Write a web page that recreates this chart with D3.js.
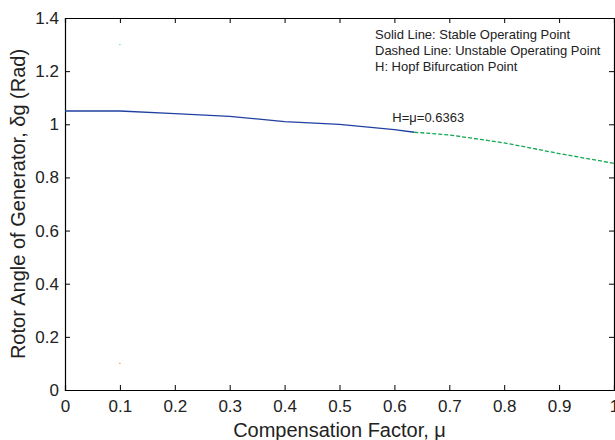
<!DOCTYPE html>
<html>
<head>
<meta charset="utf-8">
<script src="https://d3js.org/d3.v7.min.js"></script>
<style>
    body { margin: 0; padding: 0; background: #fff; }
    text { font-family: Arial, "Liberation Sans", sans-serif; fill: #222; }
</style>
</head>
<body>
<div id="chart"></div>
<script>
    // stable branch (solid) and unstable branch (dashed)
    let stableMu = [0, 0.1, 0.2, 0.3, 0.4, 0.5, 0.6, 0.6363];
    let stableDelta = [1.05, 1.05, 1.04, 1.03, 1.01, 1.0, 0.98, 0.97];
    let unstableMu = [0.6363, 0.7, 0.8, 0.9, 1.0];
    let unstableDelta = [0.97, 0.96, 0.93, 0.89, 0.853];
    // two stray single points in the original figure
    let strayMu = [0.1, 0.1];
    let strayDelta = [1.3, 0.1];
    let strayColor = ["#00c8c8", "#ff4000"];

    let xTicks = [0, 0.1, 0.2, 0.3, 0.4, 0.5, 0.6, 0.7, 0.8, 0.9, 1];
    let yTicks = [0, 0.2, 0.4, 0.6, 0.8, 1, 1.2, 1.4];
    let notes = ["Solid Line: Stable Operating Point",
                 "Dashed Line: Unstable Operating Point",
                 "H: Hopf Bifurcation Point"];

    let width = 615, height = 440;
    let margin = {left: 65, right: 1, top: 18, bottom: 50};
    let w = width - margin.left - margin.right;
    let h = height - margin.top - margin.bottom;

    let svg = d3.select("#chart").append("svg")
        .attr("width", width).attr("height", height);
    let g = svg.append("g").attr("transform", "translate(" + margin.left + "," + margin.top + ")");

    let x = d3.scaleLinear().domain([0, 1]).range([0, w]);
    let y = d3.scaleLinear().domain([0, 1.4]).range([h, 0]);

    function fmt(d) { return d3.format("")(+d.toFixed(1)); }

    // axes with inward ticks on all four sides
    let axBottom = g.append("g").attr("transform", "translate(0," + h + ")")
        .call(d3.axisBottom(x).tickValues(xTicks).tickSize(-5).tickPadding(10).tickFormat(fmt));
    let axTop = g.append("g")
        .call(d3.axisTop(x).tickValues(xTicks).tickSize(-5).tickFormat(""));
    let axLeft = g.append("g")
        .call(d3.axisLeft(y).tickValues(yTicks).tickSize(-5).tickPadding(6).tickFormat(fmt));
    let axRight = g.append("g").attr("transform", "translate(" + w + ",0)")
        .call(d3.axisRight(y).tickValues(yTicks).tickSize(-5).tickFormat(""));

    [axBottom, axTop, axLeft, axRight].forEach(function(a) {
        a.select(".domain").attr("stroke", "#000").attr("stroke-width", 1.2);
        a.selectAll(".tick line").attr("stroke", "#000");
        a.selectAll("text").style("font-size", "17px").attr("fill", "#222");
    });
    // drop ticks that sit on the box corners
    axTop.selectAll(".tick").filter(function(d) { return d === 0 || d === 1; }).remove();
    axRight.selectAll(".tick").filter(function(d) { return d === 0 || d === 1.4; }).remove();
    axBottom.selectAll(".tick line").filter(function(d) { return d === 0 || d === 1; }).remove();
    axLeft.selectAll(".tick line").filter(function(d) { return d === 0 || d === 1.4; }).remove();

    let line = d3.line().x(function(d) { return x(d[0]); }).y(function(d) { return y(d[1]); });

    g.append("path")
        .datum(d3.zip(stableMu, stableDelta))
        .attr("d", line)
        .attr("fill", "none")
        .attr("stroke", "#2040a0")
        .attr("stroke-width", 1.3);

    g.append("path")
        .datum(d3.zip(unstableMu, unstableDelta))
        .attr("d", line)
        .attr("fill", "none")
        .attr("stroke", "#10a850")
        .attr("stroke-width", 1.3)
        .attr("stroke-dasharray", "4,2");

    g.selectAll(".stray")
        .data(d3.zip(strayMu, strayDelta, strayColor))
        .enter().append("rect")
        .attr("x", function(d) { return x(d[0]) - 0.5; })
        .attr("y", function(d) { return y(d[1]) - 0.5; })
        .attr("width", 1).attr("height", 1)
        .attr("fill", function(d) { return d[2]; });

    g.selectAll(".note")
        .data(notes)
        .enter().append("text")
        .attr("x", 310)
        .attr("y", function(d, i) { return 21 + i * 16; })
        .style("font-size", "13px")
        .text(function(d) { return d; });

    g.append("text")
        .attr("x", x(0.6363) - 22)
        .attr("y", 104)
        .style("font-size", "13px")
        .text("H=\u03bc=0.6363");

    svg.append("text")
        .attr("x", margin.left + w / 2)
        .attr("y", 437)
        .attr("text-anchor", "middle")
        .style("font-size", "20px")
        .text("Compensation Factor, \u03bc");

    svg.append("text")
        .attr("transform", "translate(25," + (margin.top + h / 2) + ") rotate(-90)")
        .attr("text-anchor", "middle")
        .style("font-size", "20px")
        .text("Rotor Angle of Generator, \u03b4g (Rad)");
</script>
</body>
</html>
